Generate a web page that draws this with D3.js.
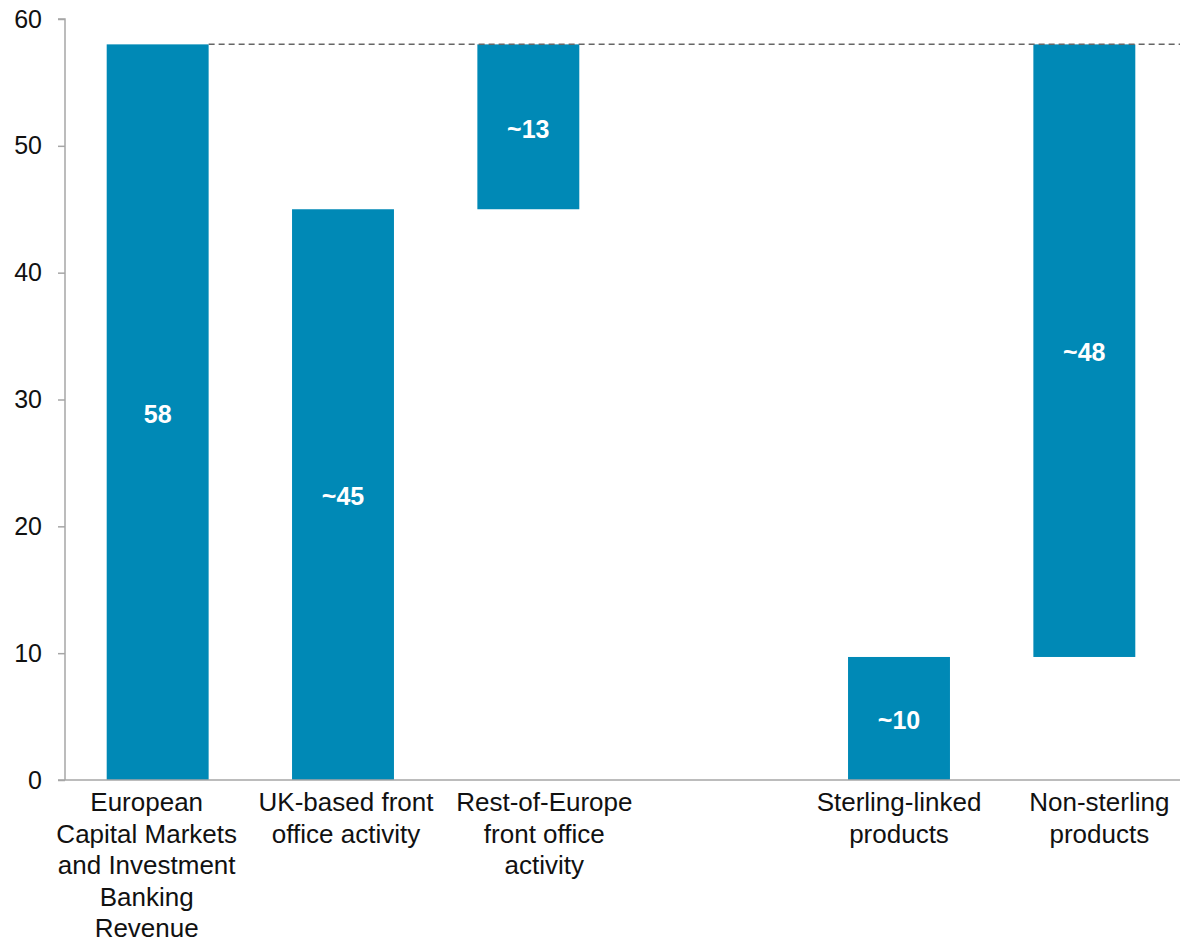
<!DOCTYPE html>
<html>
<head>
<meta charset="utf-8">
<script src="https://cdn.jsdelivr.net/npm/d3@7"></script>
<style>
  body { margin: 0; background: #fff; }
  svg { display: block; font-family: "Liberation Sans", Arial, sans-serif; }
</style>
</head>
<body>
<svg id="chart"></svg>
<script>
'use strict';

// chart data
var categories = [
	"European\nCapital Markets\nand Investment\nBanking\nRevenue",
	"UK-based front\noffice activity",
	"Rest-of-Europe\nfront office\nactivity",
	"",
	"Sterling-linked\nproducts",
	"Non-sterling\nproducts"
];
var barStart = [0, 0, 45, null, 0, 9.7];
var barEnd = [58, 45, 58, null, 9.7, 58];
var barLabels = ["58", "~45", "~13", "", "~10", "~48"];
var yTicks = [0, 10, 20, 30, 40, 50, 60];
var refLevel = 58;

var width = 1180, height = 942;
var svg = d3.select('#chart').attr('width', width).attr('height', height);

// layout: the category labels sit a little off their bar centres
var labelNudge = [-11, 3, 16, 0, 0, 15];

// scales
var xScale = d3.scaleBand()
	.domain(d3.range(categories.length))
	.range([65, 1177])
	.paddingInner(0.45)
	.paddingOuter(0.225);
var yScale = d3.scaleLinear()
	.domain([0, 60])
	.range([780, 19]);

var barColor = '#0089b6';
var axisColor = '#a6a6a6';

// y axis
var yAxis = svg.append('g')
	.attr('transform', 'translate(65,0)')
	.call(d3.axisLeft(yScale).tickValues(yTicks).tickSize(7).tickPadding(16));
yAxis.select('.domain').attr('stroke', axisColor).attr('stroke-width', 1.5)
	.attr('d', 'M-7,' + yScale(60) + 'H0V' + yScale(0));
yAxis.selectAll('.tick line').attr('stroke', axisColor).attr('stroke-width', 1.5);
yAxis.selectAll('.tick text')
	.attr('fill', '#111')
	.style('font-size', '25px');

// bars
var data = categories.map(function(c, i) {
	return { i: i, start: barStart[i], end: barEnd[i], label: barLabels[i] };
}).filter(function(d) { return d.start !== null; });

svg.append('g').selectAll('rect')
	.data(data)
	.enter().append('rect')
	.attr('x', function(d) { return xScale(d.i); })
	.attr('width', xScale.bandwidth())
	.attr('y', function(d) { return yScale(d.end); })
	.attr('height', function(d) { return yScale(d.start) - yScale(d.end); })
	.attr('fill', barColor);

// value labels
svg.append('g').selectAll('text')
	.data(data)
	.enter().append('text')
	.attr('x', function(d) { return xScale(d.i) + xScale.bandwidth() / 2; })
	.attr('y', function(d) { return (yScale(d.start) + yScale(d.end)) / 2 + 2; })
	.attr('dy', '0.35em')
	.attr('text-anchor', 'middle')
	.attr('fill', '#fff')
	.style('font-size', '25px')
	.style('font-weight', 'bold')
	.text(function(d) { return d.label; });

// dashed reference line at the total
svg.append('line')
	.attr('x1', xScale(0) + xScale.bandwidth())
	.attr('x2', width)
	.attr('y1', yScale(refLevel))
	.attr('y2', yScale(refLevel))
	.attr('stroke', '#666')
	.attr('stroke-width', 1.5)
	.attr('stroke-dasharray', '6,4');

// x axis line
svg.append('line')
	.attr('x1', 58)
	.attr('x2', width)
	.attr('y1', yScale(0))
	.attr('y2', yScale(0))
	.attr('stroke', axisColor)
	.attr('stroke-width', 1.5);

// category labels
var catG = svg.append('g').selectAll('text')
	.data(categories)
	.enter().append('text')
	.attr('text-anchor', 'middle')
	.attr('fill', '#111')
	.style('font-size', '26px')
	.attr('transform', function(d, i) {
		var cx = xScale(i) + xScale.bandwidth() / 2 + labelNudge[i];
		return 'translate(' + cx + ',811)';
	});
catG.selectAll('tspan')
	.data(function(d) { return d ? d.split('\n') : []; })
	.enter().append('tspan')
	.attr('x', 0)
	.attr('y', function(d, j) { return j * 31.5; })
	.text(function(d) { return d; });
</script>
</body>
</html>
